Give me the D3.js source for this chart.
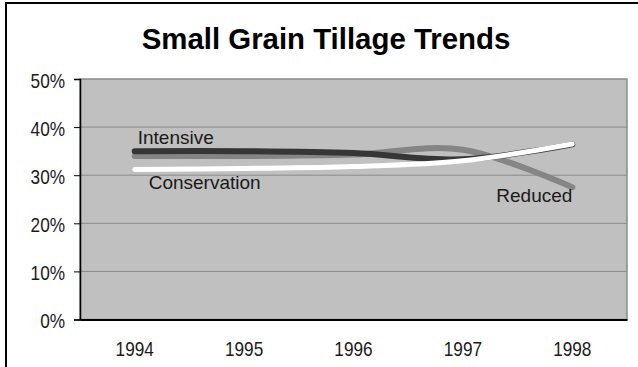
<!DOCTYPE html>
<html>
<head>
<meta charset="utf-8">
<script src="https://cdn.jsdelivr.net/npm/d3@7"></script>
<style>
  html, body { margin: 0; padding: 0; background: #fff; }
  svg { display: block; }
  .axis-label { font-family: "Liberation Sans", Arial, sans-serif; font-size: 21px; fill: #1a1a1a; }
  .series-label { font-family: "Liberation Sans", Arial, sans-serif; font-size: 19px; fill: #1a1a1a; }
  .title { font-family: "Liberation Sans", Arial, sans-serif; font-weight: bold; font-size: 29.4px; fill: #000; }
</style>
</head>
<body>
<svg id="chart" width="638" height="367"></svg>
<script>
// Tillage share of small grain acres, 1994-1998
const years = ["1994", "1995", "1996", "1997", "1998"];
const intensive = [35.0, 35.0, 34.6, 33.3, 36.4];
const reduced = [34.0, 34.0, 34.3, 35.3, 27.5];
const conservation = [31.2, 31.4, 31.8, 33.0, 36.5];
const yTicks = [0, 10, 20, 30, 40, 50];

const series = [
  { name: "Reduced", values: reduced, color: "#858585", width: 6 },
  { name: "Intensive", values: intensive, color: "#363636", width: 6 },
  { name: "Conservation", values: conservation, color: "#ffffff", width: 5 }
];

const svg = d3.select("#chart");
const plot = { left: 80, right: 627, top: 79, bottom: 319.5 };
const narrow = 0.82; // horizontal squeeze for the condensed axis lettering

// Outer frame (only the top and left edges fall inside the page)
svg.append("rect")
  .attr("x", 6).attr("y", 3)
  .attr("width", 700).attr("height", 400)
  .attr("fill", "none").attr("stroke", "#000").attr("stroke-width", 2);

svg.append("text")
  .attr("class", "title")
  .attr("x", 326).attr("y", 49)
  .attr("text-anchor", "middle")
  .text("Small Grain Tillage Trends");

const x = d3.scaleBand().domain(years).range([plot.left, plot.right]);
const y = d3.scaleLinear().domain([0, 50]).range([plot.bottom, plot.top]);

// Plot background
svg.append("rect")
  .attr("x", plot.left).attr("y", plot.top)
  .attr("width", plot.right - plot.left).attr("height", plot.bottom - plot.top)
  .attr("fill", "#c0c0c0")
  .attr("stroke", "#8a8a8a").attr("stroke-width", 1.5);

// Horizontal gridlines
svg.append("g").selectAll("line")
  .data(yTicks.filter(t => t > 0 && t < 50))
  .join("line")
  .attr("x1", plot.left).attr("x2", plot.right)
  .attr("y1", d => y(d)).attr("y2", d => y(d))
  .attr("stroke", "#8a8a8a").attr("stroke-width", 1);

// Y axis
const yAxis = svg.append("g")
  .attr("transform", `translate(${plot.left},0)`)
  .call(d3.axisLeft(y).tickValues(yTicks).tickSize(6).tickPadding(9).tickFormat(d => d + "%"));
yAxis.select(".domain").attr("stroke", "#000").attr("stroke-width", 1.5);
yAxis.selectAll(".tick line").attr("stroke", "#000");
yAxis.selectAll(".tick text")
  .attr("class", "axis-label")
  .attr("font-family", null).attr("font-size", null)
  .attr("x", -15 / narrow)
  .attr("dy", "0.40em")
  .attr("transform", `scale(${narrow},1)`);

// X axis
const xAxis = svg.append("g")
  .attr("transform", `translate(0,${plot.bottom})`)
  .call(d3.axisBottom(x).tickSize(0).tickPadding(0));
xAxis.select(".domain").attr("stroke", "#000").attr("stroke-width", 2);
xAxis.selectAll(".tick text")
  .attr("class", "axis-label")
  .attr("font-family", null).attr("font-size", null)
  .attr("y", 37).attr("dy", 0)
  .attr("transform", `scale(${narrow},1)`);

// Smoothed series lines
const cx = d => x(d) + x.bandwidth() / 2;
const line = d3.line()
  .x((v, i) => cx(years[i]))
  .y(v => y(v))
  .curve(d3.curveCardinal.tension(0));

svg.append("g").selectAll("path")
  .data(series)
  .join("path")
  .attr("d", d => line(d.values))
  .attr("fill", "none")
  .attr("stroke", d => d.color)
  .attr("stroke-width", d => d.width)
  .attr("stroke-linecap", "round")
  .attr("stroke-linejoin", "round");

// Series name labels placed next to their lines
const labels = [
  { text: "Intensive", i: 0, values: intensive, dx: 3, dy: -7 },
  { text: "Conservation", i: 0, values: conservation, dx: 14, dy: 20 },
  { text: "Reduced", i: 4, values: reduced, dx: -76, dy: 15 }
];
svg.append("g").selectAll("text")
  .data(labels)
  .join("text")
  .attr("class", "series-label")
  .attr("x", d => cx(years[d.i]) + d.dx)
  .attr("y", d => y(d.values[d.i]) + d.dy)
  .text(d => d.text);
</script>
</body>
</html>
